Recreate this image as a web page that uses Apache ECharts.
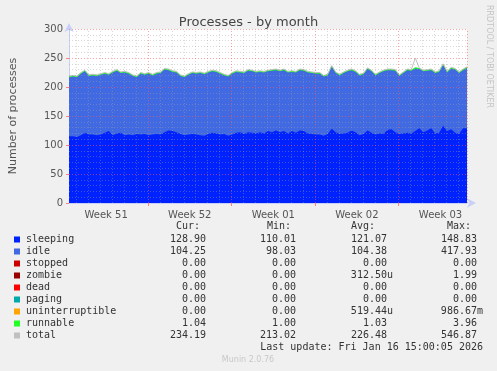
<!DOCTYPE html>
<html>
<head>
<meta charset="utf-8">
<script src="https://cdn.jsdelivr.net/npm/echarts@6/dist/echarts.min.js"></script>
<style>
html,body{margin:0;padding:0;background:#f0f0f0;}
#c{width:497px;height:371px;}
</style>
</head>
<body>
<div id="c"></div>
<script>
// ---- axis / tick data ----
const XMIN = 0.39;            // days from Mon 15 Dec 2025 00:00
const XMAX = 33.72;
const STEP = 1 / 3;           // sample spacing (days)
const weekStarts = [7, 14, 21, 28];
const weekLabelPos = [3.5, 10.5, 17.5, 24.5, 31.5];
const weekLabels = ['Week 51', 'Week 52', 'Week 01', 'Week 02', 'Week 03'];
const yTicks = [0, 50, 100, 150, 200, 250, 300];

// ---- series values ----
const sleeping = [
 115,115,114,117,121,118,118,117,118,121,
 124,117,120,121,117,118,117,119,118,119,
 117,118,119,118,122,125,124,122,119,117,
 118,119,118,117,116,119,121,120,118,119,
 116,118,121,122,119,122,121,120,122,120,
 124,122,125,122,124,120,124,121,125,124,
 120,119,118,118,116,119,128,122,119,120,
 121,125,122,117,119,125,121,118,120,119,
 126,127,122,119,120,121,120,124,129,122,
 125,129,120,121,133,124,127,121,119,129,
 129];
const idle = [
 102,103,103,106,106,101,102,102,103,102,
 97,108,108,103,108,105,102,98,105,102,
 106,102,104,106,108,104,102,103,100,100,
 103,105,105,107,106,106,106,106,105,101,
 102,105,105,103,105,106,106,105,104,105,
 103,106,104,105,105,105,102,104,104,104,
 105,105,105,105,102,101,107,102,101,104,
 106,104,104,103,103,106,106,102,104,108,
 103,102,106,100,104,108,108,108,102,105,
 103,100,104,105,105,101,105,109,105,100,
 104];
const runnable = [
 1.0,1.0,1.0,1.1,1.0,1.0,1.0,1.0,1.0,1.0,
 1.0,1.1,1.0,1.0,1.0,1.0,1.0,1.0,1.0,1.0,
 1.0,1.0,1.0,1.0,1.1,1.0,1.0,1.0,1.0,1.0,
 1.0,1.0,1.0,1.0,1.0,1.0,1.1,1.0,1.0,1.0,
 1.0,1.0,1.0,1.0,1.0,1.1,1.0,1.0,1.0,1.0,
 1.0,1.1,1.0,1.0,1.1,1.0,1.0,1.0,1.0,1.0,
 1.0,1.0,1.0,1.0,1.0,1.0,1.1,1.0,1.0,1.0,
 1.0,1.0,1.0,1.0,1.0,1.1,1.0,1.0,1.0,1.0,
 1.0,1.0,1.0,1.0,1.0,1.0,1.0,1.2,1.0,1.0,
 1.0,1.0,1.0,1.0,1.1,1.0,1.0,1.0,1.0,1.0,
 1.04];
const total = [
 219,220,219,225,229,221,222,221,223,225,
 223,227,230,226,227,225,221,219,225,223,
 225,222,225,226,232,231,228,227,221,219,
 223,226,225,226,224,227,229,228,225,222,
 220,225,228,227,226,230,229,227,228,227,
 229,230,231,229,231,227,228,227,231,230,
 227,226,225,225,220,222,237,226,222,226,
 229,231,228,222,224,233,229,222,226,229,
 231,231,230,221,226,231,230,250,233,229,
 230,231,226,228,240,227,234,232,226,231,
 235];

// ---- legend table ----
const legNames  = ['sleeping','idle','stopped','zombie','dead','paging','uninterruptible','runnable','total'];
const legColors = ['#0022ff','#4169e1','#cc0000','#990000','#ff0000','#00aaaa','#ffa500','#22ff22','#c0c0c0'];
const legCur = ['128.90','104.25','0.00','0.00','0.00','0.00','0.00','1.04','234.19'];
const legMin = ['110.01','98.03','0.00','0.00','0.00','0.00','0.00','1.00','213.02'];
const legAvg = ['121.07','104.38','0.00','312.50u','0.00','0.00','519.44u','1.03','226.48'];
const legMax = ['148.83','417.93','0.00','1.99','0.00','0.00','986.67m','3.96','546.87'];

const times = sleeping.map((_, i) => XMIN + i * STEP);
const pairs = arr => arr.map((v, i) => [times[i], v]);
// cumulative stack (sleeping -> idle -> runnable)
const stack1 = sleeping.slice();
const stack2 = sleeping.map((v, i) => v + idle[i]);
const stack3 = stack2.map((v, i) => v + runnable[i]);

const MONO = '"DejaVu Sans Mono", monospace';
const SANS = '"DejaVu Sans", sans-serif';

// grid lines (drawn over the areas, as rrdtool does)
const minorGrid = [], majorGrid = [];
for (let d = Math.ceil(XMIN); d < XMAX; d++) {
  if (weekStarts.indexOf(d) < 0) minorGrid.push({xAxis: d});
}
weekStarts.forEach(d => majorGrid.push({xAxis: d}));
majorGrid.push({xAxis: XMAX});
for (let v = 10; v <= 300; v += 10) {
  if (v % 50 === 0) majorGrid.push({yAxis: v});
  else minorGrid.push({yAxis: v});
}

const graphics = [];
const rowY0 = 239.5, rowH = 12;
const colRight = [206, 296, 387, 477];
const headers = [['Cur:', 176], ['Min:', 267], ['Avg:', 351], ['Max:', 447]];
headers.forEach(h => graphics.push({type:'text', left:h[1], top:227 - 6,
  style:{text:h[0], font:'10px ' + MONO, fill:'#333'}}));
legNames.forEach((n, k) => {
  const y = rowY0 + k * rowH;
  graphics.push({type:'rect', shape:{x:14, y:y - 3, width:6, height:6}, style:{fill:legColors[k]}});
  graphics.push({type:'text', x:26, y:y, style:{text:n, font:'10px ' + MONO, fill:'#333', textVerticalAlign:'middle'}});
  [legCur, legMin, legAvg, legMax].forEach((col, c) => {
    const s = col[k];
    const suf = /[a-z]$/.test(s);
    graphics.push({type:'text', x:colRight[c] + (suf ? 6 : 0), y:y,
      style:{text:s, font:'10px ' + MONO, fill:'#333', textAlign:'right', textVerticalAlign:'middle'}});
  });
});
graphics.push({type:'text', x:483, y:rowY0 + 9 * rowH - 0.5,
  style:{text:'Last update: Fri Jan 16 15:00:05 2026', font:'10px ' + MONO, fill:'#333', textAlign:'right', textVerticalAlign:'middle'}});
graphics.push({type:'text', x:248, y:360,
  style:{text:'Munin 2.0.76', font:'8px ' + SANS, fill:'#c8c8c8', textAlign:'center', textVerticalAlign:'middle'}});
graphics.push({type:'text', x:489, y:5, rotation:-Math.PI / 2,
  style:{text:'RRDTOOL / TOBI OETIKER', font:'8px ' + SANS, fill:'#c4c4c4', textAlign:'left', textVerticalAlign:'middle'}});

const area = (name, arr, color, z, lw) => ({
  name, type:'line', data:pairs(arr), symbol:'none', showSymbol:false, z,
  lineStyle:{width:lw, color}, areaStyle:{color, opacity:1, origin:'start'}, itemStyle:{color}
});

const chart = echarts.init(document.getElementById('c'), null, {renderer:'canvas'});
chart.setOption({
  animation: false,
  backgroundColor: '#f0f0f0',
  title: {text:'Processes - by month', left:'center', top:11,
    textStyle:{fontFamily:SANS, fontSize:13, fontWeight:'normal', color:'#444'}},
  grid: {left:67, right:30, top:29, bottom:168, show:true, backgroundColor:'#ffffff', borderWidth:0},
  xAxis: {
    type:'value', min:XMIN, max:XMAX,
    axisLine:{show:true, lineStyle:{color:'#c8d0f8', width:1}, symbol:['none','arrow'], symbolSize:[7,9], symbolOffset:[0,9]},
    axisTick:{show:true, customValues:weekStarts, length:3, inside:false, lineStyle:{color:'#ff8080'}},
    axisLabel:{customValues:weekLabelPos, margin:7, fontFamily:SANS, fontSize:10, color:'#555',
      formatter: v => { const i = weekLabelPos.findIndex(p => Math.abs(p - v) < 1e-6); return i >= 0 ? weekLabels[i] : ''; }},
    splitLine:{show:false}
  },
  yAxis: {
    type:'value', min:0, max:300, interval:50,
    name:'Number of processes', nameLocation:'middle', nameRotate:90, nameGap:50,
    nameTextStyle:{fontFamily:SANS, fontSize:11, color:'#555'},
    axisLine:{show:true, lineStyle:{color:'#c8d0f8', width:1}, symbol:['none','arrow'], symbolSize:[7,9], symbolOffset:[0,6]},
    axisTick:{show:true, length:3, lineStyle:{color:'#ff8080'}},
    axisLabel:{margin:6, fontFamily:SANS, fontSize:10, color:'#555', customValues:yTicks},
    splitLine:{show:false}
  },
  graphic: graphics,
  series: [
    area('runnable', stack3, '#22ff22', 1, 1),
    area('idle', stack2, '#4169e1', 2, 0),
    area('sleeping', stack1, '#0022ff', 3, 0),
    {name:'total', type:'line', data:pairs(total), symbol:'none', showSymbol:false,
      lineStyle:{width:1, color:'#c0c0c0'}, itemStyle:{color:'#c0c0c0'}, z:4},
    {name:'gridMinor', type:'line', data:[], z:6, silent:true,
      markLine:{silent:true, symbol:['none','none'], animation:false, label:{show:false},
        lineStyle:{type:[1,2], width:1, color:'rgba(160,160,160,0.4)'}, emphasis:{disabled:true}, data:minorGrid}},
    {name:'gridMajor', type:'line', data:[], z:7, silent:true,
      markLine:{silent:true, symbol:['none','none'], animation:false, label:{show:false},
        lineStyle:{type:[1,2], width:1, color:'rgba(255,90,90,0.55)'}, emphasis:{disabled:true}, data:majorGrid}}
  ]
});
</script>
</body>
</html>
